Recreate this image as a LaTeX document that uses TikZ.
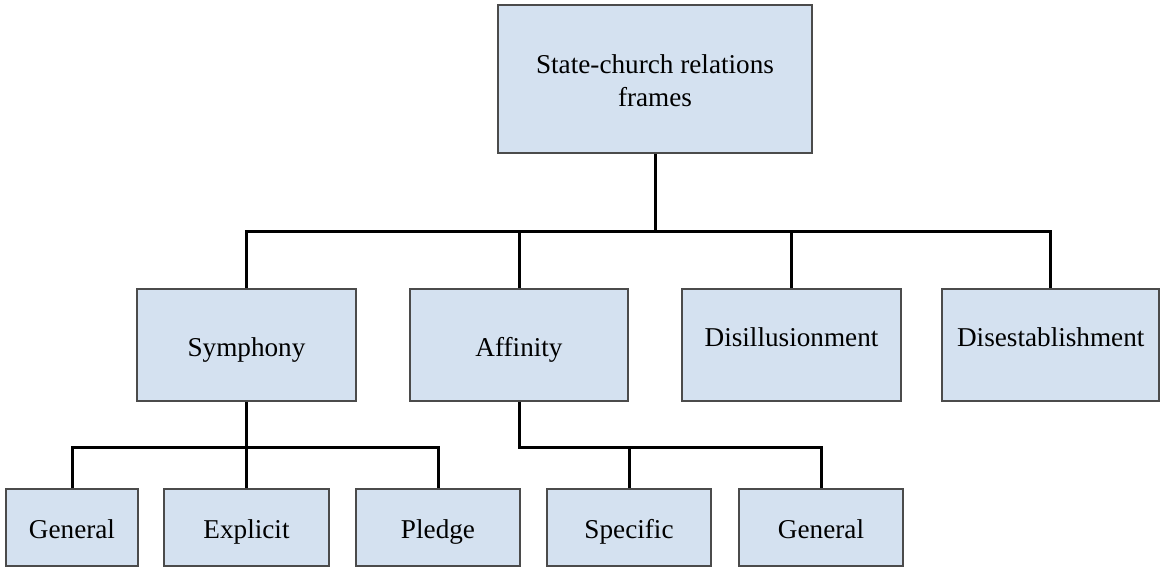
\documentclass[tikz,border=0pt]{standalone}
\usepackage{fontspec}
\setmainfont{Liberation Serif}
\definecolor{boxfill}{RGB}{212,225,240}
\definecolor{boxline}{RGB}{75,75,75}
\tikzset{
  box/.style={draw=boxline, line width=0.8pt, fill=boxfill, inner sep=0pt, align=center,
              font=\fontsize{13.6pt}{16.5pt}\selectfont, text height=11pt, text depth=0pt},
  rowtwo/.style={box, minimum height=56pt},
  rowthree/.style={box, minimum height=38.5pt, minimum width=82pt},
  raised/.style={text height=11pt, text depth=10pt},
  conn/.style={draw=black, line width=1.5pt}
}
\begin{document}
\begin{tikzpicture}[x=0.5pt,y=-0.5pt]
\useasboundingbox (0,0) rectangle (1160,567);
% nodes
\node[box, minimum width=157pt, minimum height=74pt, text height=27pt, text depth=0pt] (top) at (655,79) {State-church relations\\frames};
\node[rowtwo, minimum width=109.5pt] (sym) at (246.5,345) {Symphony};
\node[rowtwo, minimum width=109pt] (aff) at (519,345) {Affinity};
\node[rowtwo, minimum width=109.5pt, raised] (dill) at (791.5,345) {Disillusionment};
\node[rowtwo, minimum width=108.5pt, raised] (dest) at (1050.75,345) {Disestablishment};
\node[rowthree, minimum width=66pt] (g1) at (72,527.5) {General};
\node[rowthree, minimum width=82.5pt] (ex) at (246.5,527.5) {Explicit};
\node[rowthree] (pl) at (438,527.5) {Pledge};
\node[rowthree] (sp) at (629,527.5) {Specific};
\node[rowthree] (g2) at (821,527.5) {General};
% buses
\coordinate (bus1) at (655,231);
\coordinate (bus2) at (0,447);
% connectors
\draw[conn] (top.south) -- (top.south |- bus1);
\draw[conn] (sym.north) |- (dest.north |- bus1) -- (dest.north);
\draw[conn] (aff.north) -- (aff.north |- bus1);
\draw[conn] (dill.north) -- (dill.north |- bus1);
\draw[conn] (sym.south) -- (sym.south |- bus2);
\draw[conn] (g1.north) |- (pl.north |- bus2) -- (pl.north);
\draw[conn] (ex.north) -- (ex.north |- bus2);
\draw[conn] (aff.south) |- (g2.north |- bus2) -- (g2.north);
\draw[conn] (sp.north) -- (sp.north |- bus2);
\end{tikzpicture}
\end{document}
